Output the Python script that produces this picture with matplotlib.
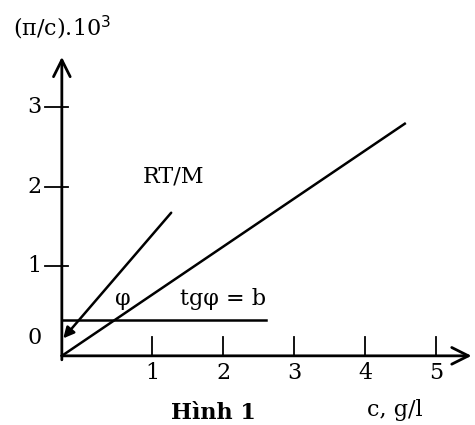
import matplotlib.pyplot as plt

plt.rcParams['font.family'] = 'DejaVu Serif'

# schematic data (axis units as labelled)
x_ticks = [1, 2, 3, 4, 5]
y_ticks = [1, 2, 3]
y_labels = ["0", "1", "2", "3"]
y_label_pos = [0.1, 1, 2, 3]

origin = (-0.27, -0.13)
line_c = [-0.27, 4.56]          # pi/c line
line_y = [-0.13, 2.79]
b_c = [-0.27, 2.61]             # horizontal line b
b_y = [0.32, 0.32]
rtm_start = (1.27, 1.67)        # RT/M arrow
rtm_end = (-0.25, 0.09)

fig = plt.figure(figsize=(4.75, 4.25), dpi=100)
ax = fig.add_axes([0, 0, 1, 1])
ax.set_xlim(-1.141, 5.549)
ax.set_ylim(-1.0, 4.346)
ax.axis('off')

# axes with open arrow heads
ax.annotate("", xy=(5.5, origin[1]), xytext=(origin[0], origin[1]),
            annotation_clip=False,
            arrowprops=dict(arrowstyle="->", lw=2, color='k',
                            mutation_scale=30, shrinkA=0, shrinkB=0))
ax.annotate("", xy=(origin[0], 3.63), xytext=(origin[0], -0.18),
            annotation_clip=False,
            arrowprops=dict(arrowstyle="->", lw=2, color='k',
                            mutation_scale=30, shrinkA=0, shrinkB=0))

# ticks
for t in x_ticks:
    ax.plot([t, t], [origin[1], origin[1] + 0.24], color='k', lw=1.3)
    ax.text(t, origin[1] - 0.22, str(t), ha='center', va='center', fontsize=16)
for t in y_ticks:
    ax.plot([-0.51, -0.19], [t, t], color='k', lw=1.3)
for lab, p in zip(y_labels, y_label_pos):
    ax.text(-0.65, p, lab, ha='center', va='center', fontsize=16)

ax.plot(line_c, line_y, color='k', lw=1.8)
ax.plot(b_c, b_y, color='k', lw=1.8)
ax.annotate("", xy=rtm_end, xytext=rtm_start,
            arrowprops=dict(arrowstyle="-|>", lw=1.8, color='k',
                            mutation_scale=16, shrinkA=0, shrinkB=0))

ax.text(-0.96, 4.0, r"($\mathregular{\pi}$/c).10$^3$", ha='left', va='center', fontsize=16)
ax.text(1.30, 2.12, "RT/M", ha='center', va='center', fontsize=16)
ax.text(0.59, 0.58, "φ", ha='center', va='center', fontsize=16)
ax.text(1.39, 0.58, "tgφ = b", ha='left', va='center', fontsize=16)
ax.text(4.42, -0.81, "c, g/l", ha='center', va='center', fontsize=16)
ax.text(1.86, -0.85, "Hình 1", ha='center', va='center', fontsize=16, fontweight='bold')

fig.savefig("out.png", dpi=100)
